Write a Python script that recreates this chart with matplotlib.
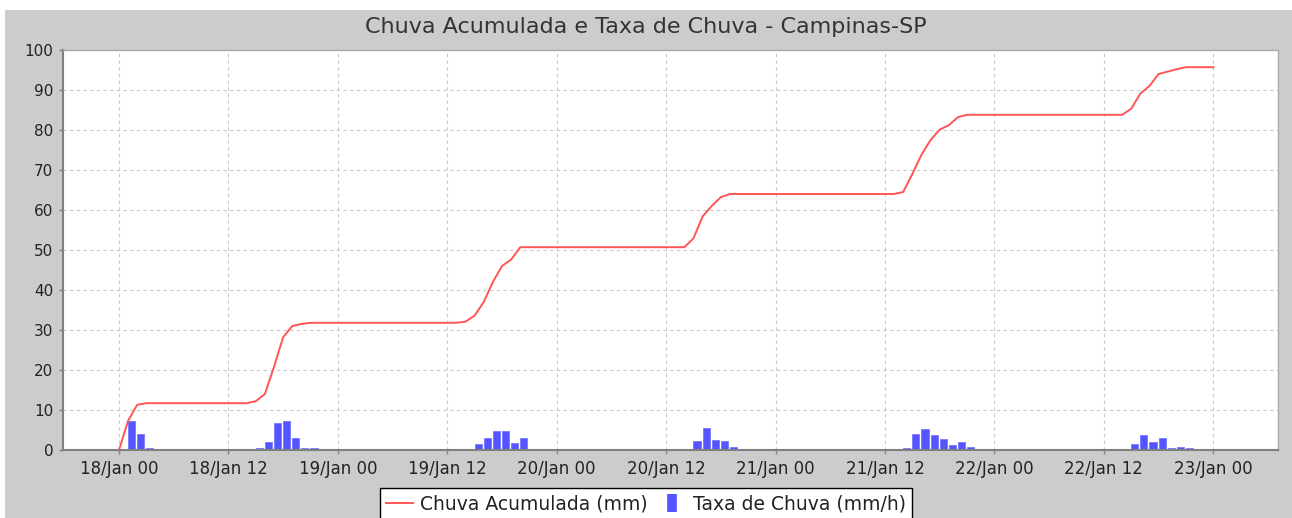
import pandas as pd
import matplotlib
matplotlib.use('Agg')
import matplotlib.pyplot as plt
import matplotlib.dates as mdates
from matplotlib.lines import Line2D
from matplotlib.patches import Rectangle

# hours counted from 18/Jan 00:00
acc_hours = [0, 1, 2, 3, 14, 15, 16, 17, 18, 19, 20, 21,
             37, 38, 39, 40, 41, 42, 43, 44,
             62, 63, 64, 65, 66, 67,
             85, 86, 87, 88, 89, 90, 91, 92, 93,
             110, 111, 112, 113, 114, 115, 116, 117, 120]
acc_mm = [0, 7.3, 11.3, 11.7, 11.7, 12.2, 14.0, 20.8, 28.2, 31.0, 31.5, 31.8,
          31.8, 32.1, 33.6, 37.0, 42.0, 46.0, 47.6, 50.7,
          50.7, 52.9, 58.4, 61.0, 63.2, 64.0,
          64.0, 64.5, 69.0, 73.8, 77.5, 80.1, 81.2, 83.2, 83.8,
          83.8, 85.3, 89.1, 91.0, 94.0, 94.6, 95.2, 95.7, 95.7]

rate_hours = [1, 2, 3,
              15, 16, 17, 18, 19, 20, 21,
              38, 39, 40, 41, 42, 43, 44,
              63, 64, 65, 66, 67,
              86, 87, 88, 89, 90, 91, 92, 93,
              111, 112, 113, 114, 115, 116, 117]
rate_mmh = [7.3, 4.0, 0.4,
            0.4, 2.1, 6.7, 7.3, 2.9, 0.6, 0.6,
            0.1, 1.5, 3.0, 4.7, 4.7, 1.7, 3.1,
            2.3, 5.4, 2.5, 2.2, 0.75,
            0.6, 3.9, 5.2, 3.8, 2.75, 1.2, 1.9, 0.7,
            1.4, 3.8, 2.1, 2.9, 0.4, 0.75, 0.6]

start = pd.Timestamp('2013-01-18 00:00')
t_acc = start + pd.to_timedelta(acc_hours, unit='h')
t_rate = start + pd.to_timedelta(rate_hours, unit='h')

plt.rcParams['font.family'] = ['DejaVu Sans']
bg = '#cccccc'
fig = plt.figure(figsize=(12.92, 5.18), dpi=100)
fig.patches.append(Rectangle((5 / 1292, 0), 1, 1 - 10 / 518, transform=fig.transFigure,
                             facecolor=bg, edgecolor='none', zorder=-10))

ax = fig.add_axes([63 / 1292, 1 - 450 / 518, 1215 / 1292, 400 / 518])
ax.set_facecolor('white')

ax.bar(t_rate, rate_mmh, width=0.78 / 24, align='edge', color='#5555ff',
       edgecolor='#7777ff', linewidth=0.6, zorder=2)
ax.plot(t_acc, acc_mm, color='#ff5555', lw=1.4, zorder=3)

ax.set_ylim(0, 100)
ax.set_yticks(range(0, 101, 10))
ax.set_xlim(start - pd.Timedelta(hours=6.14), start + pd.Timedelta(hours=127.1))
ax.xaxis.set_major_locator(mdates.HourLocator(byhour=[0, 12]))
ax.xaxis.set_major_formatter(mdates.DateFormatter('%d/%b %H'))

ax.grid(True, color='#c8c8c8', linestyle=(0, (3, 3)), linewidth=0.8, zorder=0)
ax.set_axisbelow(True)
for side in ['left', 'bottom']:
    ax.spines[side].set_color('#808080')
    ax.spines[side].set_linewidth(1.5)
for side in ['top', 'right']:
    ax.spines[side].set_color('#aaaaaa')
    ax.spines[side].set_linewidth(1.0)
ax.tick_params(axis='both', colors='#808080', length=3, width=1,
               labelcolor='#222222', pad=4)
ax.tick_params(axis='x', labelsize=12)
ax.tick_params(axis='y', labelsize=11)

fig.text(0.5, 1 - 27 / 518, 'Chuva Acumulada e Taxa de Chuva - Campinas-SP',
         ha='center', va='center', fontsize=16, color='#333333')

handles = [Line2D([], [], color='#ff5555', lw=1.4),
           Line2D([], [], linestyle='none', marker='|', markersize=13,
                  markeredgewidth=7, color='#5555ff')]
leg = fig.legend(handles, ['Chuva Acumulada (mm)', 'Taxa de Chuva (mm/h)'],
                 loc='upper center', bbox_to_anchor=(0.5, 1 - 488 / 518), ncol=2,
                 fontsize=13.5, frameon=True, fancybox=False, handlelength=1.4,
                 handletextpad=0.4, columnspacing=0.6, borderpad=0.35,
                 borderaxespad=0, framealpha=1)
leg.get_frame().set_facecolor('white')
leg.get_frame().set_edgecolor('#000000')
leg.get_frame().set_linewidth(1.0)
for txt in leg.get_texts():
    txt.set_color('#222222')

fig.savefig('out.png', dpi=100, facecolor='white')
